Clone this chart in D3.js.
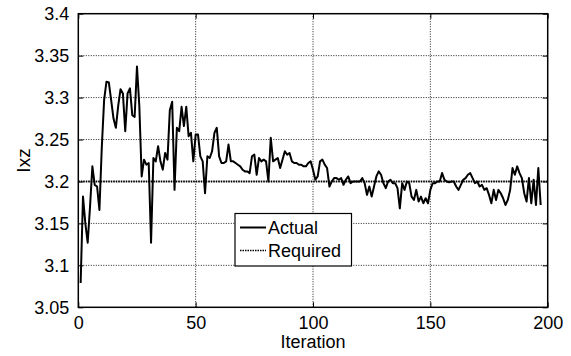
<!DOCTYPE html>
<html>
<head>
<meta charset="utf-8">
<script src="https://cdn.jsdelivr.net/npm/d3@7"></script>
<style>
  body { margin: 0; background: #fff; }
  svg { display: block; font-family: "Liberation Sans", Arial, sans-serif; }
  .grid line { stroke: #222; stroke-width: 1; stroke-dasharray: 1,1.5; }
</style>
</head>
<body>
<div id="chart"></div>
<script>
// measured values, one per iteration starting at 1
const actual = [
  3.079, 3.182, 3.150, 3.127, 3.170, 3.218, 3.196, 3.194, 3.166, 3.240,
  3.297, 3.319, 3.318, 3.297, 3.275, 3.264, 3.290, 3.310, 3.305, 3.260,
  3.305, 3.311, 3.279, 3.277, 3.337, 3.290, 3.206, 3.226, 3.220, 3.222,
  3.127, 3.228, 3.224, 3.242, 3.224, 3.214, 3.234, 3.226, 3.285, 3.295,
  3.190, 3.264, 3.260, 3.289, 3.266, 3.289, 3.254, 3.258, 3.224, 3.256,
  3.256, 3.230, 3.224, 3.186, 3.230, 3.228, 3.236, 3.258, 3.264, 3.230,
  3.222, 3.222, 3.224, 3.244, 3.224, 3.224, 3.222, 3.220, 3.218, 3.214,
  3.212, 3.212, 3.210, 3.230, 3.232, 3.208, 3.228, 3.224, 3.226, 3.224,
  3.200, 3.252, 3.224, 3.226, 3.228, 3.216, 3.226, 3.236, 3.232, 3.234,
  3.224, 3.222, 3.222, 3.220, 3.220, 3.218, 3.218, 3.222, 3.224, 3.214,
  3.202, 3.206, 3.224, 3.226, 3.220, 3.216, 3.194, 3.200, 3.204, 3.204,
  3.202, 3.204, 3.196, 3.202, 3.206, 3.198, 3.200, 3.200, 3.200, 3.200,
  3.204, 3.198, 3.184, 3.194, 3.182, 3.194, 3.206, 3.212, 3.208, 3.198,
  3.192, 3.200, 3.202, 3.198, 3.198, 3.192, 3.168, 3.198, 3.190, 3.200,
  3.198, 3.182, 3.178, 3.190, 3.176, 3.182, 3.174, 3.180, 3.174, 3.190,
  3.198, 3.198, 3.200, 3.200, 3.210, 3.202, 3.200, 3.199, 3.200, 3.200,
  3.194, 3.190, 3.196, 3.202, 3.204, 3.208, 3.210, 3.204, 3.198, 3.200,
  3.194, 3.196, 3.190, 3.192, 3.184, 3.174, 3.190, 3.178, 3.190, 3.186,
  3.180, 3.172, 3.178, 3.190, 3.216, 3.208, 3.218, 3.210, 3.204, 3.186,
  3.176, 3.204, 3.174, 3.202, 3.172, 3.216, 3.172
];
const required = 3.2;
const requiredRange = [0, 200];
const xTicks = [0, 50, 100, 150, 200];
const yTicks = [3.05, 3.1, 3.15, 3.2, 3.25, 3.3, 3.35, 3.4];
const legendLabels = ['Actual', 'Required'];

const width = 571, height = 356;
const margin = { top: 13.7, right: 23.3, bottom: 48.7, left: 78.3 };
const innerW = width - margin.left - margin.right;
const innerH = height - margin.top - margin.bottom;

const svg = d3.select('#chart').append('svg')
  .attr('width', width)
  .attr('height', height);

const g = svg.append('g')
  .attr('transform', 'translate(' + margin.left + ',' + margin.top + ')');

const x = d3.scaleLinear().domain([0, 200]).range([0, innerW]);
const y = d3.scaleLinear().domain([3.05, 3.4]).range([innerH, 0]);

// grid
g.append('g').attr('class', 'grid')
  .selectAll('line').data(xTicks.slice(1, -1)).enter().append('line')
  .attr('x1', d => x(d)).attr('x2', d => x(d))
  .attr('y1', 0).attr('y2', innerH);
g.append('g').attr('class', 'grid')
  .selectAll('line').data(yTicks.slice(1, -1)).enter().append('line')
  .attr('y1', d => y(d)).attr('y2', d => y(d))
  .attr('x1', 0).attr('x2', innerW);

// axes with inward ticks on all sides
const fontSize = 18;
function styleAxis(sel) {
  sel.select('.domain').remove();
  sel.selectAll('.tick line').attr('stroke', '#000');
  sel.selectAll('.tick text').attr('fill', '#000').style('font-size', fontSize + 'px');
}
g.append('g')
  .attr('transform', 'translate(0,' + innerH + ')')
  .call(d3.axisBottom(x).tickValues(xTicks).tickSize(-5).tickPadding(9).tickFormat(d3.format('d')))
  .call(styleAxis);
g.append('g')
  .call(d3.axisTop(x).tickValues(xTicks).tickSize(-5).tickFormat(''))
  .call(styleAxis);
g.append('g')
  .call(d3.axisLeft(y).tickValues(yTicks).tickSize(-5).tickPadding(9).tickFormat(d => String(+d.toFixed(2))))
  .call(styleAxis);
g.append('g')
  .attr('transform', 'translate(' + innerW + ',0)')
  .call(d3.axisRight(y).tickValues(yTicks).tickSize(-5).tickFormat(''))
  .call(styleAxis);

// required line
g.append('path')
  .datum(requiredRange)
  .attr('fill', 'none')
  .attr('stroke', '#000')
  .attr('stroke-width', 2)
  .attr('stroke-dasharray', '1.5,1')
  .attr('d', d3.line().x(d => x(d)).y(() => y(required)));

// actual line
g.append('path')
  .datum(actual)
  .attr('fill', 'none')
  .attr('stroke', '#000')
  .attr('stroke-width', 2)
  .attr('stroke-linejoin', 'round')
  .attr('d', d3.line().x((d, i) => x(i + 1)).y(d => y(d)));

// frame
g.append('rect')
  .attr('width', innerW).attr('height', innerH)
  .attr('fill', 'none').attr('stroke', '#000').attr('stroke-width', 1.5);

// axis titles
svg.append('text')
  .attr('x', margin.left + innerW / 2).attr('y', 348)
  .attr('text-anchor', 'middle').style('font-size', fontSize + 'px')
  .text('Iteration');
svg.append('text')
  .attr('transform', 'translate(30,' + (margin.top + innerH / 2) + ') rotate(-90)')
  .attr('text-anchor', 'middle').style('font-size', '19px')
  .text('Ixz');

// legend
const legend = svg.append('g').attr('transform', 'translate(235,213.5)');
legend.append('rect')
  .attr('width', 116.5).attr('height', 52.5)
  .attr('fill', '#fff').attr('stroke', '#000').attr('stroke-width', 1.2);
legendLabels.forEach((name, i) => {
  const ly = 14 + i * 23;
  legend.append('line')
    .attr('x1', 5).attr('x2', 31).attr('y1', ly).attr('y2', ly)
    .attr('stroke', '#000')
    .attr('stroke-width', i === 0 ? 2 : 1.5)
    .attr('stroke-dasharray', i === 0 ? null : '1.5,1');
  legend.append('text')
    .attr('x', 33).attr('y', ly).attr('dy', '0.36em')
    .style('font-size', fontSize + 'px')
    .text(name);
});
</script>
</body>
</html>
